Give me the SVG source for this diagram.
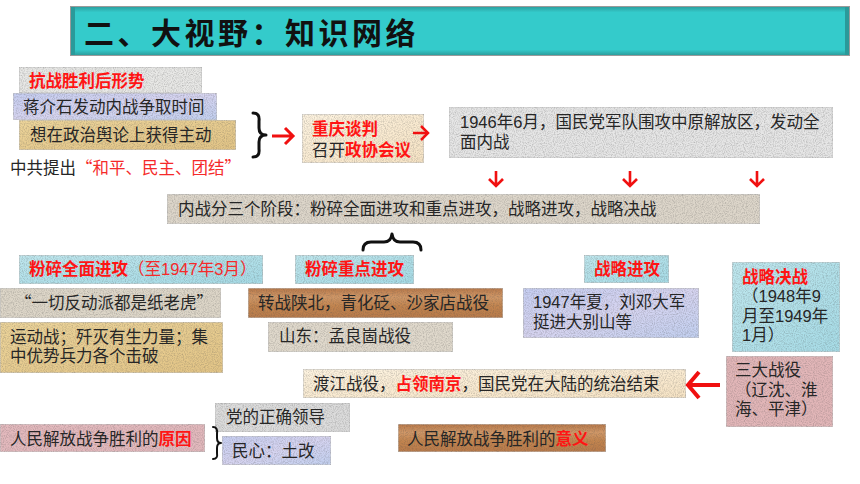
<svg xmlns="http://www.w3.org/2000/svg" width="860" height="484" viewBox="0 0 860 484">
<defs>
<style>
.t{font-family:"Liberation Sans","Noto Sans CJK SC",sans-serif;font-size:16.5px;fill:#262626;}
.cj{font-family:"Noto Sans CJK SC",sans-serif;}
.r{fill:#ff1414;font-weight:bold;}
.rl{fill:#f52a2a;}
.box{stroke:#c4c4c4;stroke-width:1;filter:url(#grain);}
.arr{fill:none;stroke:#f01010;stroke-linecap:butt;stroke-linejoin:miter;}
.brace{fill:none;stroke:#111;stroke-linecap:round;stroke-linejoin:round;}
.title{font-family:"Noto Sans CJK SC","Noto Sans",sans-serif;font-size:30px;font-weight:bold;fill:#111;letter-spacing:3.5px;}
</style>
<filter id="grain" x="0" y="0" width="1" height="1" color-interpolation-filters="sRGB">
<feTurbulence type="fractalNoise" baseFrequency="0.9" numOctaves="2" seed="3" result="t"/>
<feColorMatrix in="t" type="matrix" values="0 0 0 0 0.3  0 0 0 0 0.3  0 0 0 0 0.3  0.6 0 0 0 -0.24" result="d"/>
<feComposite in="d" in2="SourceGraphic" operator="in" result="dm"/>
<feMerge><feMergeNode in="SourceGraphic"/><feMergeNode in="dm"/></feMerge>
</filter>
<linearGradient id="wood" x1="0" y1="0" x2="0" y2="1">
<stop offset="0" stop-color="#b97848"/><stop offset="0.3" stop-color="#d09868"/><stop offset="0.6" stop-color="#c3854f"/><stop offset="1" stop-color="#b87a4a"/>
</linearGradient>
<linearGradient id="cream" x1="0" y1="0" x2="1" y2="1">
<stop offset="0" stop-color="#fdf3e0"/><stop offset="1" stop-color="#f6e3c4"/>
</linearGradient>
<linearGradient id="aqua" x1="0" y1="0" x2="1" y2="1">
<stop offset="0" stop-color="#bfe7ee"/><stop offset="1" stop-color="#a6dbe6"/>
</linearGradient>
<linearGradient id="lav" x1="0" y1="0" x2="1" y2="1">
<stop offset="0" stop-color="#c6cef2"/><stop offset="0.5" stop-color="#d6d4f0"/><stop offset="1" stop-color="#c2d0f0"/>
</linearGradient>
<linearGradient id="parch" x1="0" y1="0" x2="1" y2="1">
<stop offset="0" stop-color="#ecd49a"/><stop offset="1" stop-color="#e2c486"/>
</linearGradient>
<linearGradient id="tbar" x1="0" y1="0" x2="0" y2="1">
<stop offset="0" stop-color="#2b9e9e"/><stop offset="0.12" stop-color="#34cbcb"/><stop offset="0.88" stop-color="#34cbcb"/><stop offset="1" stop-color="#2b9a9a"/>
</linearGradient>
</defs>
<rect width="860" height="484" fill="#ffffff"/>

<g id="title">
<rect x="70.5" y="6.5" width="779" height="49" fill="url(#tbar)" stroke="#9a9a9a" stroke-width="1"/>
<rect x="71" y="7" width="4" height="48" fill="#2a9a9a"/>
<rect x="845" y="7" width="4" height="48" fill="#2a9a9a"/>
<text class="title" x="84" y="44">二、大视野：知识网络</text>
</g>

<g id="n-situation">
<rect class="box" x="19" y="67" width="183" height="26" fill="#e8e8e6"/>
<text class="t r" x="29" y="87">抗战胜利后形势</text>
</g>
<g id="n-jiang">
<rect class="box" x="13" y="93" width="204" height="27" fill="url(#lav)"/>
<text class="t" x="23" y="113">蒋介石发动内战争取时间</text>
</g>
<g id="n-opinion">
<rect class="box" x="19" y="120" width="217" height="30" fill="url(#parch)"/>
<text class="t" x="30" y="141">想在政治舆论上获得主动</text>
</g>
<g id="n-ccp">
<text class="t cj" x="10" y="174">中共提出<tspan class="rl">“和平、民主、团结”</tspan></text>
</g>
<g id="n-chongqing">
<rect class="box" x="302" y="114" width="122" height="49" fill="url(#cream)"/>
<text class="t" x="312" y="135"><tspan class="r">重庆谈判</tspan><tspan x="312" dy="21">召开</tspan><tspan class="r">政协会议</tspan></text>
</g>
<g id="n-1946">
<rect class="box" x="449" y="107" width="384" height="51" fill="#e6e6e6"/>
<text class="t" x="460" y="128">1946年6月，国民党军队围攻中原解放区，发动全<tspan x="460" dy="20">面内战</tspan></text>
</g>
<g id="n-stages">
<rect class="box" x="167" y="194" width="593" height="30" fill="#ddd6ca"/>
<text class="t" x="178" y="215">内战分三个阶段：粉碎全面进攻和重点进攻，战略进攻，战略决战</text>
</g>
<g id="n-smash-all">
<rect class="box" x="19" y="255" width="244" height="29" fill="url(#aqua)"/>
<text class="t" x="29" y="275"><tspan class="r">粉碎全面进攻</tspan><tspan class="rl">（至1947年3月）</tspan></text>
</g>
<g id="n-smash-key">
<rect class="box" x="295" y="255" width="119" height="29" fill="url(#aqua)"/>
<text class="t r" x="305" y="275">粉碎重点进攻</text>
</g>
<g id="n-offensive">
<rect class="box" x="584" y="255" width="85" height="28" fill="url(#aqua)"/>
<text class="t r" x="594" y="275">战略进攻</text>
</g>
<g id="n-decisive">
<rect class="box" x="732" y="262" width="108" height="90" fill="url(#aqua)"/>
<text class="t" x="742" y="283"><tspan class="r">战略决战</tspan><tspan x="742" dy="19">（1948年9</tspan><tspan x="742" dy="20">月至1949年</tspan><tspan x="742" dy="19">1月）</tspan></text>
</g>
<g id="n-tiger">
<rect class="box" x="0" y="288" width="221" height="30" fill="#ddd6c8"/>
<text class="t cj" x="15" y="309">“一切反动派都是纸老虎”</text>
</g>
<g id="n-mobile">
<rect class="box" x="0" y="322" width="223" height="51" fill="url(#parch)"/>
<text class="t" x="10" y="343">运动战；歼灭有生力量；集<tspan x="10" dy="19">中优势兵力各个击破</tspan></text>
</g>
<g id="n-shaanbei">
<rect class="box" x="248" y="288" width="255" height="30" fill="url(#wood)"/>
<text class="t" x="258" y="309">转战陕北，青化砭、沙家店战役</text>
</g>
<g id="n-shandong">
<rect class="box" x="268" y="322" width="185" height="30" fill="#e0d9cc"/>
<text class="t" x="279" y="342">山东：孟良崮战役</text>
</g>
<g id="n-dabie">
<rect class="box" x="523" y="288" width="176" height="50" fill="url(#lav)"/>
<text class="t" x="533" y="308">1947年夏，刘邓大军<tspan x="533" dy="20">挺进大别山等</tspan></text>
</g>
<g id="n-three">
<rect class="box" x="726" y="356" width="107" height="71" fill="#e2b6b8"/>
<text class="t" x="735" y="376">三大战役<tspan x="735" dy="20">（辽沈、淮</tspan><tspan x="735" dy="19">海、平津）</tspan></text>
</g>
<g id="n-yangtze">
<rect class="box" x="303" y="369" width="383" height="29" fill="url(#cream)"/>
<text class="t" x="313" y="390">渡江战役，<tspan class="r">占领南京</tspan>，国民党在大陆的统治结束</text>
</g>
<g id="n-leader">
<rect class="box" x="215" y="403" width="135" height="29" fill="#dcdcdc"/>
<text class="t" x="226" y="423">党的正确领导</text>
</g>
<g id="n-reason">
<rect class="box" x="0" y="424" width="205" height="28" fill="#e3b9bd"/>
<text class="t" x="10" y="445">人民解放战争胜利的<tspan class="r">原因</tspan></text>
</g>
<g id="n-land">
<rect class="box" x="222" y="436" width="109" height="29" fill="url(#lav)"/>
<text class="t" x="232" y="457">民心：土改</text>
</g>
<g id="n-meaning">
<rect class="box" x="398" y="424" width="208" height="28" fill="url(#wood)"/>
<text class="t" x="407" y="445">人民解放战争胜利的<tspan class="r">意义</tspan></text>
</g>

<g id="connectors">
<path class="brace" stroke-width="3" d="M253,113 Q260,113 259,121 L259,128 Q259,135 266,135 Q259,135 259,142 L259,149 Q260,157 253,157"/>
<path class="arr" stroke-width="3" d="M272,136 L293,136 M285,128 L293,136 L285,144"/>
<path class="arr" stroke-width="2.5" d="M413,133 L428,133 M421,126 L428,133 L421,140"/>
<path class="arr" stroke-width="2.6" d="M496,171 L496,186 M489,179 L496,186 L503,179"/>
<path class="arr" stroke-width="2.6" d="M630,171 L630,186 M623,179 L630,186 L637,179"/>
<path class="arr" stroke-width="2.6" d="M757,171 L757,186 M750,179 L757,186 L764,179"/>
<path class="brace" stroke-width="3" d="M363,250 Q363,242 371,242 L384,242 Q391,242 392,234 Q393,242 400,242 L413,242 Q421,242 421,250"/>
<path class="arr" stroke-width="4" d="M720,385 L689,385 M699,372 L688,385 L699,398"/>
<path class="brace" stroke-width="2" d="M213,427 Q218,427 217,434 L217,438 Q217,443 221,443 Q217,443 217,448 L217,453 Q218,459 213,459"/>
</g>
</svg>
